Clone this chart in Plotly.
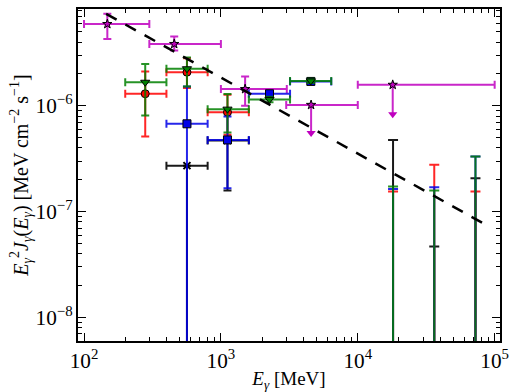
import plotly.graph_objects as go

# ---------------- data ----------------
bin_lo = [200, 400, 800, 1600, 3200]
bin_hi = [400, 800, 1600, 3200, 6400]

red_E = [280, 565, 1117]
red_F = [1.30e-6, 2.08e-6, 8.7e-7]
red_hi = [2.11e-6, 2.82e-6, 1.27e-6]
red_lo = [5.13e-7, 1.47e-6, 5.32e-7]

green_E = [280, 565, 1117, 2265, 4540]
green_F = [1.67e-6, 2.24e-6, 9.3e-7, 1.15e-6, 1.72e-6]
green_hi = [2.49e-6, 2.86e-6, 1.29e-6, 1.22e-6, 1.80e-6]
green_lo = [8.1e-7, 1.52e-6, 5.58e-7, 1.08e-6, 1.64e-6]

blue_E = [565, 1117, 2265, 4540]
blue_F = [6.76e-7, 4.76e-7, 1.30e-6, 1.70e-6]
blue_hi = [1.52e-6, 7.92e-7, 1.38e-6, 1.78e-6]
blue_lo = [1e-10, 1.66e-7, 1.22e-6, 1.62e-6]

black_E = [565, 1117]
black_F = [2.72e-7, 4.7e-7]
black_hi = [2.72e-7, 4.7e-7]
black_lo = [1e-10, 1.58e-7]

# high-energy bins: only an upper cap, bar running down off the axis
hiE = [18100, 36200, 72400]
red_cap = [1.55e-7, 2.77e-7, 1.55e-7]
green_cap = [1.73e-7, 1.58e-7, 3.32e-7]
blue_cap = [1.64e-7, 1.70e-7, 3.32e-7]
black_cap = [4.76e-7, 4.67e-8, 2.07e-7]
floor_val = 1e-10

mag_E = [148, 456, 1503]
mag_xlo = [100, 300, 1000]
mag_xhi = [300, 1000, 3030]
mag_F = [5.93e-6, 3.84e-6, 1.44e-6]
mag_hi = [7.4e-6, 4.53e-6, 1.89e-6]
mag_lo = [4.27e-6, 3.33e-6, 1.0e-6]

magUL_E = [4560, 18000]
magUL_xlo = [3000, 10000]
magUL_xhi = [10000, 100000]
magUL_F = [1.02e-6, 1.58e-6]
magUL_arrow = [5.52e-7, 8.34e-7]

model_E = [145, 88000]
model_F = [7.4e-6, 7.4e-8]

# ---------------- style ----------------
RED = "rgba(255,0,0,0.85)"
GREEN = "rgba(0,128,0,0.85)"
BLUE = "rgba(0,0,230,0.85)"
BLACK = "rgba(0,0,0,0.9)"
MAG = "rgba(191,0,191,0.85)"
FONT = "'Liberation Serif', 'Times New Roman', 'DejaVu Serif', serif"

fig = go.Figure()


def bins_for(E):
    lo, hi = [], []
    for e in E:
        for a, b in zip(bin_lo, bin_hi):
            if a <= e < b:
                lo.append(e - a)
                hi.append(b - e)
    return lo, hi


def series(E, F, hi, lo, color, symbol, size, lw=1):
    xm, xp = bins_for(E)
    fig.add_trace(go.Scatter(
        x=E, y=F, mode="markers",
        marker=dict(symbol=symbol, size=size, color=color.replace("0.85", "1"),
                    line=dict(color="black", width=lw)),
        error_x=dict(type="data", symmetric=False, array=xp, arrayminus=xm,
                     color=color, thickness=2, width=4),
        error_y=dict(type="data", symmetric=False,
                     array=[h - f for h, f in zip(hi, F)],
                     arrayminus=[f - l for f, l in zip(F, lo)],
                     color=color, thickness=2, width=4),
        showlegend=False, hoverinfo="skip"))


def caps(E, cap, color):
    fig.add_trace(go.Scatter(
        x=E, y=cap, mode="markers",
        marker=dict(size=1, opacity=0),
        error_y=dict(type="data", symmetric=False, array=[0] * len(cap),
                     arrayminus=[c - floor_val for c in cap],
                     color=color, thickness=2, width=5),
        showlegend=False, hoverinfo="skip"))


# magenta points
fig.add_trace(go.Scatter(
    x=mag_E, y=mag_F, mode="markers",
    marker=dict(symbol="star", size=7, color="rgb(191,0,191)", line=dict(color="black", width=1)),
    error_x=dict(type="data", symmetric=False,
                 array=[b - e for b, e in zip(mag_xhi, mag_E)],
                 arrayminus=[e - a for e, a in zip(mag_E, mag_xlo)],
                 color=MAG, thickness=2, width=4),
    error_y=dict(type="data", symmetric=False,
                 array=[h - f for h, f in zip(mag_hi, mag_F)],
                 arrayminus=[f - l for f, l in zip(mag_F, mag_lo)],
                 color=MAG, thickness=2, width=4),
    showlegend=False, hoverinfo="skip"))
fig.add_trace(go.Scatter(
    x=magUL_E, y=magUL_F, mode="markers",
    marker=dict(symbol="star", size=7, color="rgb(191,0,191)", line=dict(color="black", width=1)),
    error_x=dict(type="data", symmetric=False,
                 array=[b - e for b, e in zip(magUL_xhi, magUL_E)],
                 arrayminus=[e - a for e, a in zip(magUL_E, magUL_xlo)],
                 color=MAG, thickness=2, width=4),
    error_y=dict(type="data", symmetric=False, array=[0, 0],
                 arrayminus=[f - a for f, a in zip(magUL_F, magUL_arrow)],
                 color=MAG, thickness=2, width=0),
    showlegend=False, hoverinfo="skip"))
fig.add_trace(go.Scatter(
    x=magUL_E, y=magUL_arrow, mode="markers",
    marker=dict(symbol="triangle-down", size=8, color="rgb(191,0,191)", line=dict(width=0)),
    showlegend=False, hoverinfo="skip"))

# black, red, blue, green
caps(hiE, black_cap, BLACK)
series(black_E, black_F, black_hi, black_lo, BLACK, "x-thin", 7, lw=2)
caps(hiE, red_cap, RED)
series(red_E, red_F, red_hi, red_lo, RED, "circle", 8)
caps(hiE, blue_cap, BLUE)
series(blue_E, blue_F, blue_hi, blue_lo, BLUE, "square", 8)
caps(hiE, green_cap, GREEN)
series(green_E, green_F, green_hi, green_lo, GREEN, "triangle-down", 8)

# model line
fig.add_trace(go.Scatter(
    x=model_E, y=model_F, mode="lines",
    line=dict(color="black", width=2.5, dash="12px,10px"),
    showlegend=False, hoverinfo="skip"))

axis_common = dict(
    type="log", showline=True, linecolor="black", linewidth=2, mirror="ticks",
    ticks="inside", ticklen=8, tickwidth=1.2, tickcolor="black",
    showgrid=False, zeroline=False, dtick=1, exponentformat="power",
    automargin=False,
    minor=dict(ticks="inside", ticklen=4, tickwidth=1, tickcolor="black",
               dtick="D1", showgrid=False),
    tickfont=dict(family=FONT, size=17, color="black"),
)

fig.update_xaxes(**axis_common, range=[1.956, 5.039],
                 title=dict(text="<i>E</i><sub><i>γ</i></sub> [MeV]",
                            font=dict(family=FONT, size=19, color="black"), standoff=4))
fig.update_yaxes(**axis_common, range=[-8.223, -5.085],
                 title=dict(text="<i>E</i><sub><i>γ</i></sub><sup>2</sup><i>J</i><sub><i>γ</i></sub>(<i>E</i><sub><i>γ</i></sub>) [MeV cm<sup>−2</sup> s<sup>−1</sup>]",
                            font=dict(family=FONT, size=20, color="black"), standoff=2))

fig.update_layout(
    width=510, height=392,
    margin=dict(l=78, r=10, t=9, b=51),
    paper_bgcolor="white", plot_bgcolor="white",
    font=dict(family=FONT),
    showlegend=False,
)

fig.write_html("out.html")
